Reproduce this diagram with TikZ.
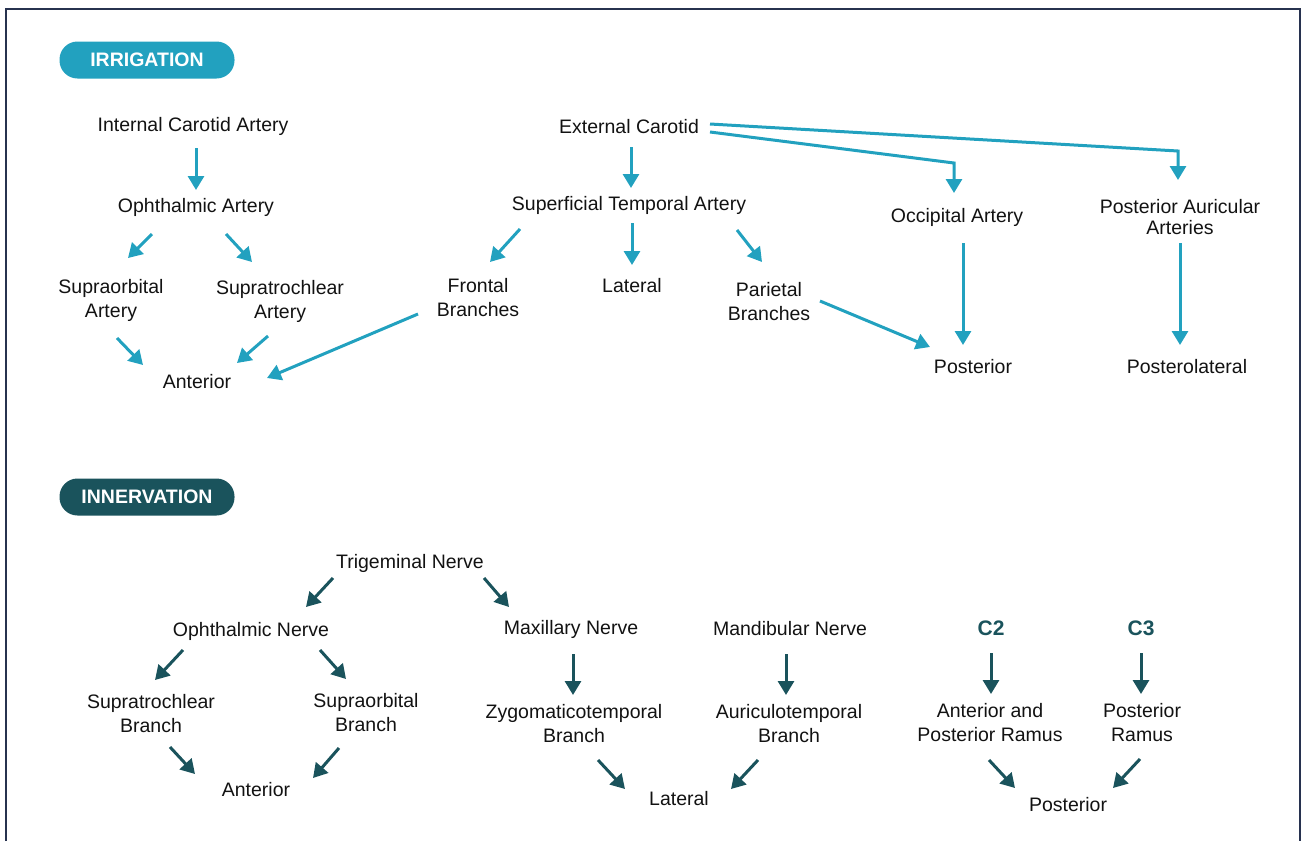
\documentclass[tikz,border=0pt]{standalone}
\usepackage{fontspec}
\setmainfont{Liberation Sans}
\usetikzlibrary{arrows.meta}
\definecolor{irrig}{HTML}{22A1BF}
\definecolor{innerv}{HTML}{1A535C}
\definecolor{frameblue}{HTML}{27324F}
\begin{document}
\begin{tikzpicture}[x=1pt,y=-1pt,
    lbl/.style={align=center,inner sep=0pt,text=black!93,font=\fontsize{19.5}{24}\selectfont},
    pill/.style={rounded corners=18pt,minimum width=175pt,minimum height=37pt,text=white,font=\fontsize{19.5}{24}\selectfont\bfseries},
    cnode/.style={inner sep=0pt,text=innerv,font=\fontsize{21}{24}\selectfont\bfseries},
    art/.style={-{Triangle[width=16pt,length=14pt]},line width=3pt,color=irrig},
    nrv/.style={-{Triangle[width=16pt,length=14pt]},line width=3pt,color=innerv}]
    \useasboundingbox (0,0) rectangle (1303,841);
    \draw [line width=2.2pt,frameblue] (6,841) -- (6,9) -- (1300,9) -- (1300,841);
    % irrigation
    \node [pill,fill=irrig] (irr) at (147,60) {IRRIGATION};
    \node [lbl] (ica) at (193,126) {Internal Carotid Artery};
    \node [lbl] (oa) at (196,207) {Ophthalmic Artery};
    \node [lbl] (sao) at (111,300) {Supraorbital\\Artery};
    \node [lbl] (str) at (280,301) {Supratrochlear\\Artery};
    \node [lbl] (antA) at (197,382) {Anterior};
    \node [lbl] (ec) at (629,127) {External Carotid};
    \node [lbl] (sta) at (629,205) {Superficial Temporal Artery};
    \node [lbl] (fb) at (478,298) {Frontal\\Branches};
    \node [lbl] (latA) at (632,286) {Lateral};
    \node [lbl] (pb) at (769,302) {Parietal\\Branches};
    \node [lbl] (occ) at (957,217) {Occipital Artery};
    \node [lbl] (paa) at (1180,217) {Posterior Auricular\\[-3pt]Arteries};
    \node [lbl] (postA) at (973,367) {Posterior};
    \node [lbl] (plA) at (1187,367) {Posterolateral};
    \draw [art] ([shift={(3,22)}]ica.center) -- ([shift={(0,-17)}]oa.center);
    \draw [art] ([shift={(-44,27)}]oa.center) -- ([shift={(17,-42)}]sao.center);
    \draw [art] ([shift={(30,27)}]oa.center) -- ([shift={(-28,-39)}]str.center);
    \draw [art] ([shift={(6,38)}]sao.center) -- ([shift={(-54,-17)}]antA.center);
    \draw [art] ([shift={(-12,35)}]str.center) -- ([shift={(40,-19)}]antA.center);
    \draw [art] ([shift={(-60,16)}]fb.center) -- ([shift={(70,-4)}]antA.center);
    \draw [art] ([shift={(2,20)}]ec.center) -- ([shift={(2,-17)}]sta.center);
    \draw [art] ([shift={(-109,24)}]sta.center) -- ([shift={(12,-36)}]fb.center);
    \draw [art] ([shift={(3,18)}]sta.center) -- ([shift={(0,-21)}]latA.center);
    \draw [art] ([shift={(108,25)}]sta.center) -- ([shift={(-7,-40)}]pb.center);
    \draw [art] ([shift={(51,-1)}]pb.center) -- ([shift={(-43,-20)}]postA.center);
    \draw [art] ([shift={(6,26)}]occ.center) -- ([shift={(-10,-22)}]postA.center);
    \draw [art] ([shift={(0,26)}]paa.center) -- ([shift={(-7,-22)}]plA.center);
    \draw [art] ([shift={(81,5)}]ec.center) -- ([shift={(-3,-54)}]occ.center) -- ([shift={(-3,-24)}]occ.center);
    \draw [art] ([shift={(81,-3)}]ec.center) -- ([shift={(-2,-66)}]paa.center) -- ([shift={(-2,-37)}]paa.center);
    % innervation
    \node [pill,fill=innerv] (inn) at (147,497) {INNERVATION};
    \node [lbl] (tn) at (410,563) {Trigeminal Nerve};
    \node [lbl] (on) at (251,631) {Ophthalmic Nerve};
    \node [lbl] (mxn) at (571,629) {Maxillary Nerve};
    \node [lbl] (mdn) at (790,629) {Mandibular Nerve};
    \node [cnode] (c2) at (991,628) {C2};
    \node [cnode] (c3) at (1141,628) {C3};
    \node [lbl] (stb) at (151,714) {Supratrochlear\\Branch};
    \node [lbl] (sob) at (366,713) {Supraorbital\\Branch};
    \node [lbl] (antI) at (256,790) {Anterior};
    \node [lbl] (zb) at (574,724) {Zygomaticotemporal\\Branch};
    \node [lbl] (ab) at (789,724) {Auriculotemporal\\Branch};
    \node [lbl] (apr) at (990,723) {Anterior and\\Posterior Ramus};
    \node [lbl] (pr) at (1142,723) {Posterior\\Ramus};
    \node [lbl] (latI) at (679,799) {Lateral};
    \node [lbl] (postI) at (1068,805) {Posterior};
    \draw [nrv] ([shift={(-77,15)}]tn.center) -- ([shift={(55,-24)}]on.center);
    \draw [nrv] ([shift={(74,15)}]tn.center) -- ([shift={(-62,-22)}]mxn.center);
    \draw [nrv] ([shift={(-68,19)}]on.center) -- ([shift={(4,-34)}]stb.center);
    \draw [nrv] ([shift={(69,19)}]on.center) -- ([shift={(-20,-34)}]sob.center);
    \draw [nrv] ([shift={(19,33)}]stb.center) -- ([shift={(-61,-16)}]antI.center);
    \draw [nrv] ([shift={(-27,35)}]sob.center) -- ([shift={(57,-12)}]antI.center);
    \draw [nrv] ([shift={(2,25)}]mxn.center) -- ([shift={(-1,-29)}]zb.center);
    \draw [nrv] ([shift={(-4,25)}]mdn.center) -- ([shift={(-3,-29)}]ab.center);
    \draw [nrv] ([shift={(24,36)}]zb.center) -- ([shift={(-54,-10)}]latI.center);
    \draw [nrv] ([shift={(-31,36)}]ab.center) -- ([shift={(52,-10)}]latI.center);
    \draw [nrv] ([shift={(0,25)}]c2.center) -- ([shift={(1,-29)}]apr.center);
    \draw [nrv] ([shift={(0,25)}]c3.center) -- ([shift={(-1,-29)}]pr.center);
    \draw [nrv] ([shift={(-1,37)}]apr.center) -- ([shift={(-53,-17)}]postI.center);
    \draw [nrv] ([shift={(-2,36)}]pr.center) -- ([shift={(45,-17)}]postI.center);
\end{tikzpicture}
\end{document}
